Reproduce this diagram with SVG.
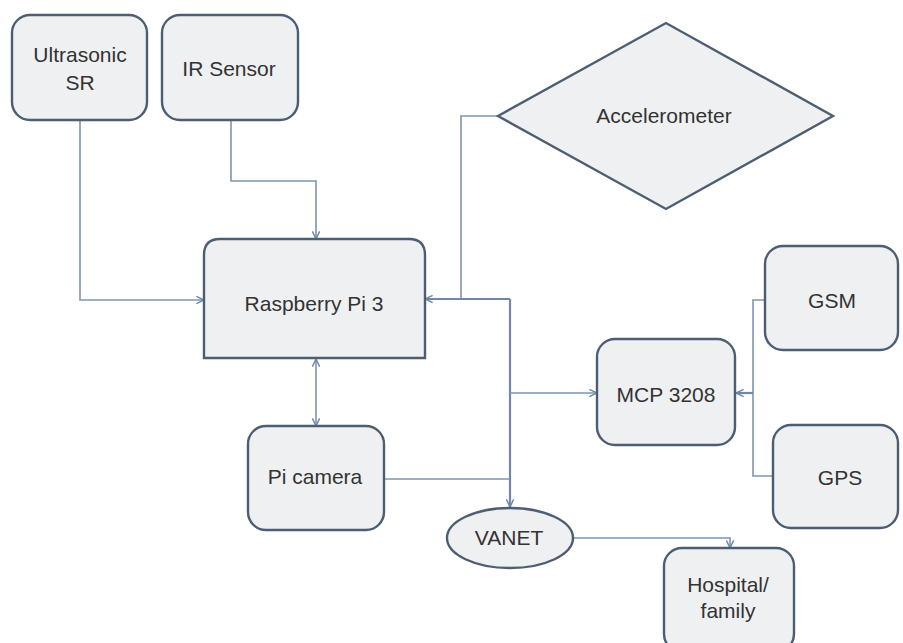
<svg xmlns="http://www.w3.org/2000/svg" width="903" height="643" viewBox="0 0 903 643">
<defs>
<style>
.box{fill:#eff0f2;stroke:#4d5d72;stroke-width:2.4}
.lbl{font-family:"Liberation Sans",Arial,sans-serif;font-size:21px;fill:#333;text-anchor:middle}
.con{fill:none;stroke:#7e95b0;stroke-width:1.6}
.con2{fill:none;stroke:#6f88a6;stroke-width:2.2}
</style>
<marker id="arr" viewBox="0 0 10 10" refX="9.5" refY="5" markerWidth="9" markerHeight="9" markerUnits="userSpaceOnUse" orient="auto-start-reverse">
<path d="M1,1 L9.5,5 L1,9" fill="none" stroke="#6f88a6" stroke-width="1.6"/>
</marker>
</defs>
<rect width="903" height="643" fill="#ffffff"/>
<g id="connectors">
<polyline class="con" points="80,120 80,300 204,300" marker-end="url(#arr)"/>
<polyline class="con" points="231,120 231,181 316,181 316,239" marker-end="url(#arr)"/>
<polyline class="con" points="498,116 461,116 461,299"/>
<polyline class="con2" points="510,299 425,299" marker-end="url(#arr)"/>
<polyline class="con2" points="510,299 510,507" marker-end="url(#arr)"/>
<polyline class="con" points="510,393 597,393" marker-end="url(#arr)"/>
<line class="con" x1="316" y1="359" x2="316" y2="426" marker-start="url(#arr)" marker-end="url(#arr)"/>
<polyline class="con" points="384,479 510,479"/>
<polyline class="con" points="573,538 730,538 730,548" marker-end="url(#arr)"/>
<polyline class="con" points="765,300 753,300 753,476 773,476"/>
<polyline class="con2" points="753,393 736,393" marker-end="url(#arr)"/>
</g>
<g id="ultrasonic">
<rect class="box" x="12" y="15" width="135" height="105" rx="18"/>
<text class="lbl" x="80" y="62">Ultrasonic</text>
<text class="lbl" x="80" y="90">SR</text>
</g>
<g id="ir-sensor">
<rect class="box" x="162" y="15" width="136" height="105" rx="18"/>
<text class="lbl" x="229" y="76">IR Sensor</text>
</g>
<g id="accelerometer">
<polygon class="box" points="498,116 666,23 833,116 666,209"/>
<text class="lbl" x="664" y="123">Accelerometer</text>
</g>
<g id="raspberry">
<path class="box" d="M204,358 L204,255 Q204,239 220,239 L409,239 Q425,239 425,255 L425,358 Z"/>
<text class="lbl" x="314" y="311">Raspberry Pi 3</text>
</g>
<g id="gsm">
<rect class="box" x="765" y="246" width="133" height="104" rx="18"/>
<text class="lbl" x="832" y="308">GSM</text>
</g>
<g id="mcp">
<rect class="box" x="597" y="339" width="138" height="106" rx="18"/>
<text class="lbl" x="666" y="402">MCP 3208</text>
</g>
<g id="gps">
<rect class="box" x="773" y="425" width="125" height="103" rx="18"/>
<text class="lbl" x="840" y="485">GPS</text>
</g>
<g id="picamera">
<rect class="box" x="248" y="426" width="136" height="104" rx="18"/>
<text class="lbl" x="315" y="484">Pi camera</text>
</g>
<g id="vanet">
<ellipse class="box" cx="510" cy="538" rx="63" ry="30"/>
<text class="lbl" x="509" y="545">VANET</text>
</g>
<g id="hospital">
<rect class="box" x="664" y="548" width="130" height="104" rx="18"/>
<text class="lbl" x="728" y="592">Hospital/</text>
<text class="lbl" x="728" y="618">family</text>
</g>
</svg>
